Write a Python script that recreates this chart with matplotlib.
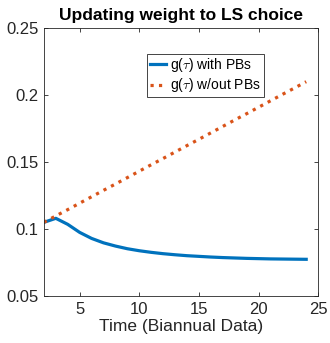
import matplotlib
matplotlib.use('Agg')
import matplotlib.pyplot as plt

plt.rcParams.update({
    'font.family': ['Liberation Sans', 'DejaVu Sans'],
    'mathtext.fontset': 'cm',
    'xtick.direction': 'in', 'ytick.direction': 'in',
    'xtick.top': True, 'ytick.right': True,
})

# ── Data ──────────────────────────────────────────────────────
t = list(range(2, 25))
g_with = [0.105, 0.108, 0.1035, 0.0975, 0.093, 0.0897, 0.0873, 0.0853,
          0.0838, 0.0826, 0.0816, 0.0808, 0.0801, 0.0796, 0.0791, 0.0787,
          0.0784, 0.0781, 0.0779, 0.0777, 0.0776, 0.0775, 0.0774]
g_without = [0.1050, 0.1098, 0.1145, 0.1193, 0.1241, 0.1289, 0.1336, 0.1384,
             0.1432, 0.1480, 0.1527, 0.1575, 0.1623, 0.1670, 0.1718, 0.1766,
             0.1814, 0.1861, 0.1909, 0.1957, 0.2005, 0.2052, 0.2100]
xticks = [5, 10, 15, 20, 25]
yticks = [0.05, 0.1, 0.15, 0.2, 0.25]
ytick_labels = ['0.05', '0.1', '0.15', '0.2', '0.25']

C_BLUE = '#0072BD'
C_ORANGE = '#D95319'
C_AX = '#262626'

fig = plt.figure(figsize=(3.3, 3.43), dpi=100)
ax = fig.add_axes([0.133, 0.137, 0.831, 0.781])

ax.plot(t, g_with, color=C_BLUE, lw=2.3, label=r'g($\tau$) with PBs')
ax.plot(t, g_without, color=C_ORANGE, lw=2.3, ls=':', label=r'g($\tau$) w/out PBs')

ax.set_xlim(2, 25)
ax.set_ylim(0.05, 0.25)
ax.set_xticks(xticks)
ax.set_yticks(yticks)
ax.set_yticklabels(ytick_labels)
ax.tick_params(labelsize=12, colors=C_AX, length=3, width=0.6, pad=4)
for s in ax.spines.values():
    s.set_color(C_AX)
    s.set_linewidth(0.6)

ax.set_xlabel('Time (Biannual Data)', fontsize=12.5, color=C_AX, labelpad=2)
ax.set_title('Updating weight to LS choice', fontsize=12.5, fontweight='bold', pad=6)

leg = ax.legend(loc='upper left', bbox_to_anchor=(0.375, 0.905), fontsize=10,
                frameon=True, fancybox=False, framealpha=1, edgecolor=C_AX,
                handlelength=1.2, handletextpad=0.3, borderpad=0.2,
                labelspacing=0.15, borderaxespad=0)
leg.get_frame().set_linewidth(0.6)

fig.savefig('out.png', dpi=100, facecolor='white')
